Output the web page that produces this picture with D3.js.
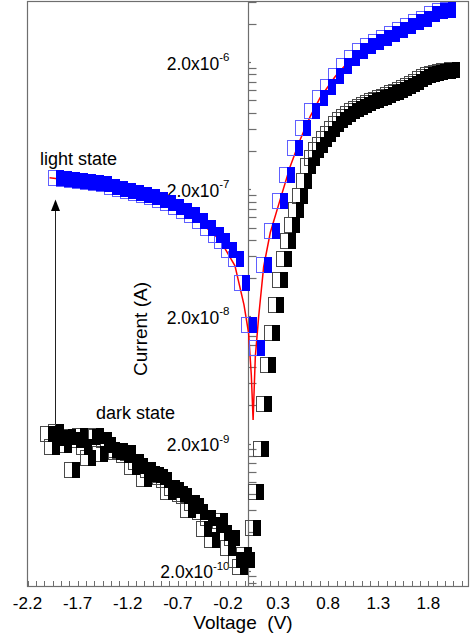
<!DOCTYPE html>
<html>
<head>
<meta charset="utf-8">
<script src="https://cdnjs.cloudflare.com/ajax/libs/d3/7.8.5/d3.min.js"></script>
<style>
  html, body { margin: 0; padding: 0; background: #fff; }
  svg { display: block; }
  text { font-family: Arial, "Liberation Sans", sans-serif; fill: #000; }
</style>
</head>
<body>
<svg id="chart" width="470" height="636"></svg>
<script>
// I–V sweep under illumination (blue) and in the dark (black), |I| on a log axis
const lightV = [-1.92,-1.84,-1.76,-1.68,-1.60,-1.52,-1.44,-1.36,-1.28,-1.20,-1.12,-1.04,-0.96,-0.88,-0.80,-0.72,-0.64,-0.56,-0.48,-0.40,-0.32,-0.26,-0.19,-0.12,-0.06,0.01,0.09,0.16,0.24,0.32,0.39,0.47,0.55,0.64,0.72,0.80,0.88,0.96,1.04,1.12,1.20,1.28,1.36,1.44,1.52,1.60,1.68,1.76,1.84,1.92,2.00];
const lightI = [2.44e-7,2.42e-7,2.35e-7,2.33e-7,2.29e-7,2.25e-7,2.19e-7,2.07e-7,2.02e-7,1.95e-7,1.88e-7,1.81e-7,1.75e-7,1.65e-7,1.57e-7,1.46e-7,1.35e-7,1.26e-7,1.13e-7,1.0e-7,8.77e-8,7.86e-8,6.68e-8,5.67e-8,3.64e-8,1.70e-8,1.13e-8,5.09e-8,9.42e-8,1.62e-7,2.60e-7,4.24e-7,6.10e-7,8.23e-7,1.05e-6,1.28e-6,1.57e-6,1.88e-6,2.17e-6,2.46e-6,2.70e-6,2.90e-6,3.12e-6,3.35e-6,3.61e-6,3.88e-6,4.13e-6,4.40e-6,4.82e-6,5.09e-6,5.13e-6];

const darkV = [-2.00,-1.96,-1.92,-1.88,-1.84,-1.80,-1.76,-1.72,-1.68,-1.64,-1.60,-1.56,-1.52,-1.48,-1.44,-1.40,-1.36,-1.32,-1.28,-1.24,-1.20,-1.16,-1.12,-1.08,-1.04,-1.00,-0.96,-0.92,-0.88,-0.84,-0.80,-0.76,-0.72,-0.68,-0.64,-0.60,-0.56,-0.52,-0.48,-0.44,-0.40,-0.36,-0.32,-0.28,-0.24,-0.20,-0.16,-0.12,-0.08,-0.04,-0.01,
  0.05,0.08,0.13,0.16,0.20,0.24,0.28,0.32,0.36,0.40,0.44,0.48,0.52,0.56,0.60,0.64,0.68,0.72,0.76,0.80,0.84,0.88,0.92,0.96,1.00,1.04,1.08,1.12,1.16,1.20,1.24,1.28,1.32,1.36,1.40,1.44,1.48,1.52,1.56,1.60,1.64,1.68,1.72,1.76,1.80,1.84,1.88,1.92,1.96,2.00,2.04];
const darkI = [2.38e-9,1.88e-9,2.46e-9,2.21e-9,1.95e-9,2.25e-9,1.24e-9,2.13e-9,2.29e-9,1.88e-9,1.54e-9,2.25e-9,2.29e-9,1.65e-9,2.13e-9,1.95e-9,1.78e-9,1.71e-9,1.75e-9,1.62e-9,1.68e-9,1.31e-9,1.43e-9,1.33e-9,1.05e-9,1.24e-9,1.15e-9,1.13e-9,1.09e-9,1.03e-9,8.3e-10,8.93e-10,8.61e-10,8.0e-10,7.72e-10,5.99e-10,6.80e-10,6.44e-10,5.78e-10,4.24e-10,5.18e-10,3.48e-10,4.56e-10,4.91e-10,3.95e-10,3.01e-10,3.61e-10,2.42e-10,2.13e-10,2.65e-10,2.42e-10,
  4.32e-10,8.3e-10,1.81e-9,4.09e-9,8.3e-9,1.48e-8,2.46e-8,3.88e-8,5.67e-8,7.86e-8,1.05e-7,1.38e-7,1.78e-7,2.33e-7,3.06e-7,3.54e-7,4.09e-7,4.48e-7,5.0e-7,5.47e-7,5.99e-7,6.56e-7,7.05e-7,7.45e-7,7.86e-7,8.30e-7,8.61e-7,8.93e-7,9.26e-7,9.60e-7,9.96e-7,1.01e-6,1.05e-6,1.07e-6,1.11e-6,1.15e-6,1.17e-6,1.21e-6,1.26e-6,1.31e-6,1.35e-6,1.40e-6,1.48e-6,1.54e-6,1.58e-6,1.62e-6,1.65e-6,1.68e-6,1.70e-6,1.71e-6,1.73e-6];

// fitted curve through the illuminated sweep
const fitV = [-1.98,-1.59,-1.20,-1.04,-0.77,-0.48,-0.28,-0.13,-0.04,0.006,0.033,0.051,0.063,0.073,0.106,0.156,0.222,0.32,0.42,0.52,0.62,0.72,0.87,1.02,1.22,1.42,1.62,1.82,2.02];
const fitI = [2.46e-7,2.26e-7,1.89e-7,1.71e-7,1.48e-7,1.11e-7,8.0e-8,5.0e-8,2.46e-8,1.48e-8,6.92e-9,3.06e-9,5.78e-9,9.6e-9,1.98e-8,4.91e-8,9.09e-8,1.65e-7,3.01e-7,4.91e-7,7.45e-7,1.05e-6,1.54e-6,2.09e-6,2.75e-6,3.29e-6,3.88e-6,4.56e-6,5.18e-6];

const xTickValues = [-2.2,-1.7,-1.2,-0.7,-0.2,0.3,0.8,1.3,1.8];
const xTickLabels = ["-2.2","-1.7","-1.2","-0.7","-0.2","0.3","0.8","1.3","1.8"];
const yTickValues = [2e-10,2e-9,2e-8,2e-7,2e-6];
const yTickMantissa = "2.0x10";
const yTickExponents = ["-10","-9","-8","-7","-6"];

const svg = d3.select("#chart");
const frame = {left: 27.5, right: 468.5, top: 1.5, bottom: 586.5};

const x = d3.scaleLinear().domain([-2.2, 2.2]).range([frame.left, frame.right]);
const y = d3.scaleLog().domain([1.5e-10, 6e-6]).range([frame.bottom, frame.top]);

const axisColor = "#6e6e6e";

// plot frame
svg.append("rect")
  .attr("x", frame.left).attr("y", frame.top)
  .attr("width", frame.right - frame.left).attr("height", frame.bottom - frame.top)
  .attr("fill", "none").attr("stroke", axisColor).attr("stroke-width", 1.2);

// bottom axis: ticks pointing inward, major every 0.5 V with five minors between
const xMinor = d3.range(0, 53).map(k => -2.2 + k / 12).filter(v => v <= 2.2);
svg.append("g").selectAll("line").data(xMinor).join("line")
  .attr("x1", d => Math.round(x(d)) + 0.5).attr("x2", d => Math.round(x(d)) + 0.5)
  .attr("y1", frame.bottom).attr("y2", frame.bottom - 5.5)
  .attr("stroke", axisColor).attr("stroke-width", 1);

svg.append("g").selectAll("text").data(xTickValues).join("text")
  .attr("x", d => x(d)).attr("y", 608.5)
  .attr("text-anchor", "middle").attr("font-size", 17)
  .text((d, i) => xTickLabels[i]);

// vertical current axis at V = 0
const x0 = Math.round(x(0)) + 0.5;
svg.append("line")
  .attr("x1", x0).attr("x2", x0).attr("y1", frame.top).attr("y2", frame.bottom)
  .attr("stroke", axisColor).attr("stroke-width", 1.2);

const yMinor = [];
[2e-11, 2e-10, 2e-9, 2e-8, 2e-7, 2e-6].forEach(base => {
  for (let m = 1; m <= 9; m++) yMinor.push({v: base * m, major: m === 1});
});
svg.append("g").selectAll("line")
  .data(yMinor.filter(t => t.v >= y.domain()[0] && t.v <= y.domain()[1]))
  .join("line")
  .attr("x1", x0).attr("x2", d => x0 + (d.major ? 2.5 : 8))
  .attr("y1", d => Math.round(y(d.v)) + 0.5).attr("y2", d => Math.round(y(d.v)) + 0.5)
  .attr("stroke", axisColor).attr("stroke-width", 1.2);

const yLab = svg.append("g").selectAll("text").data(yTickValues).join("text")
  .attr("x", 229.5).attr("y", d => y(d) + 7.5)
  .attr("text-anchor", "end").attr("font-size", 17.5);
yLab.append("tspan").text(yTickMantissa);
yLab.append("tspan").attr("dy", -8.5).attr("font-size", 11.5).text((d, i) => yTickExponents[i]);

// axis titles
svg.append("text")
  .attr("transform", "translate(147,329) rotate(-90)")
  .attr("text-anchor", "middle").attr("font-size", 19)
  .text("Current (A)");
svg.append("text")
  .attr("x", 243).attr("y", 629)
  .attr("text-anchor", "middle").attr("font-size", 19)
  .style("white-space", "pre")
  .text("Voltage  (V)");

// state annotations
svg.append("text").attr("x", 40).attr("y", 165).attr("font-size", 18).text("light state");
svg.append("text").attr("x", 96).attr("y", 419).attr("font-size", 18).text("dark state");

// arrow from the dark level up to the light level
const arrowX = 55.5;
svg.append("line")
  .attr("x1", arrowX).attr("x2", arrowX).attr("y1", 428).attr("y2", 209)
  .attr("stroke", "#222").attr("stroke-width", 1);
svg.append("path")
  .attr("d", `M${arrowX},199.5 L${arrowX - 4.5},211 L${arrowX + 4.5},211 Z`)
  .attr("fill", "#000");

// fit curve
const fitLine = d3.line().x(d => x(d[0])).y(d => y(d[1]));
svg.append("path")
  .datum(d3.zip(fitV, fitI))
  .attr("d", fitLine)
  .attr("fill", "none").attr("stroke", "#ff0000").attr("stroke-width", 1.5);

// half-filled square markers: open outline, solid right half laid over all outlines
function drawMarkers(V, I, fill, stroke) {
  const s = 16;
  const pts = d3.zip(V, I).map(d => [Math.round(x(d[0])), Math.round(y(d[1]))]);
  svg.append("g").selectAll("rect").data(pts).join("rect")
    .attr("x", d => d[0] - s / 2 + 0.5).attr("y", d => d[1] - s / 2 + 0.5)
    .attr("width", s - 1).attr("height", s - 1)
    .attr("fill", "none").attr("stroke", stroke).attr("stroke-width", 1);
  svg.append("g").selectAll("rect").data(pts).join("rect")
    .attr("x", d => d[0]).attr("y", d => d[1] - s / 2)
    .attr("width", s / 2).attr("height", s)
    .attr("fill", fill);
}

drawMarkers(darkV, darkI, "#000000", "#4a4a4a");
drawMarkers(lightV, lightI, "#0000ff", "#6060ff");
</script>
</body>
</html>
